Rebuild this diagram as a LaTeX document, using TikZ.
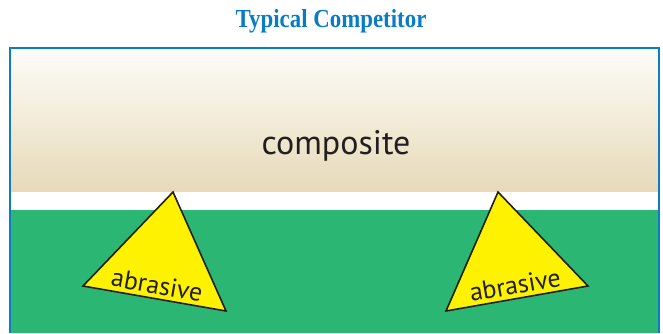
\documentclass[tikz,border=0pt]{standalone}
\usepackage{fontspec}
\setmainfont{PT Sans}
\newfontfamily\titlefont{Liberation Serif}
\definecolor{titleblue}{HTML}{0A7CC4}
\definecolor{frameblue}{HTML}{0A7CC8}
\definecolor{resingreen}{HTML}{2BB673}
\definecolor{abryellow}{HTML}{FFF200}
\definecolor{sandtop}{HTML}{FDFCF8}
\definecolor{sandbot}{HTML}{E6DAB7}
\definecolor{inkdark}{HTML}{231F20}
\begin{document}
\begin{tikzpicture}[x=1pt,y=-1pt,
  grit/.style={fill=abryellow,draw=inkdark,line width=1.6pt,line join=miter},
  gritlabel/.style={text=inkdark,font=\fontsize{26}{26}\selectfont,inner sep=0pt}]
\useasboundingbox (0,0) rectangle (663,333);
% composite layer with gradient
\shade[top color=sandtop,bottom color=sandbot] (10,48) rectangle (659,192);
% white gap
\fill[white] (10,192) rectangle (659,210);
% green substrate
\fill[resingreen] (10,210) rectangle (659,333);
% frame
\draw[frameblue,line width=2pt] (10,333) -- (10,48) -- (659,48) -- (659,333);
% title
\node[text=titleblue,font=\titlefont\bfseries\fontsize{26}{26}\selectfont,inner sep=0pt] (title) at (331,21) {\scalebox{0.88}[1]{Typical Competitor}};
% composite label
\node[text=inkdark,font=\fontsize{34}{34}\selectfont,inner sep=0pt] (comp) at (336,146) {composite};
% abrasive grains
\draw[grit] (173,192) -- (83,286) -- (226,311) -- cycle;
\draw[grit] (498,192) -- (446,311) -- (588,286) -- cycle;
\node[gritlabel,rotate=-10] (ab1) at (157,285) {abrasive};
\node[gritlabel,rotate=10] (ab2) at (515,285) {abrasive};
\end{tikzpicture}
\end{document}
